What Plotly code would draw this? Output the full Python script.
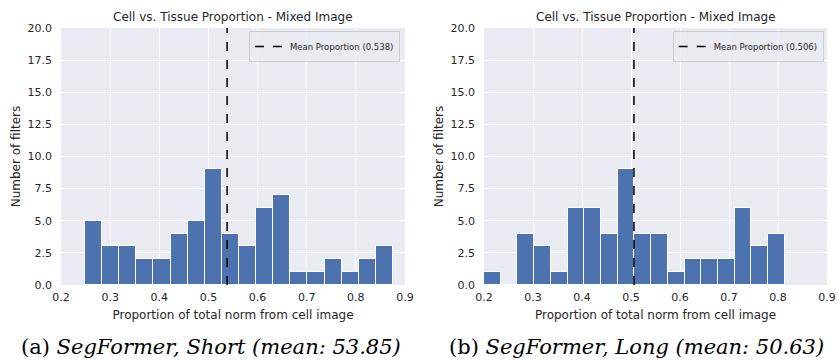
import numpy as np
import plotly.graph_objects as go
from plotly.subplots import make_subplots

# ---- data ----
short_bin_start = 0.249
short_bin_width = 0.0348
short_counts = [5, 3, 3, 2, 2, 4, 5, 9, 4, 3, 6, 7, 1, 1, 2, 1, 2, 3]
short_mean = 0.538

long_bin_start = 0.200
long_bin_width = 0.0341
long_counts = [1, 0, 4, 3, 1, 6, 6, 4, 9, 4, 4, 1, 2, 2, 2, 6, 3, 4]
long_mean = 0.506

panel_titles = ["Cell vs. Tissue Proportion - Mixed Image", "Cell vs. Tissue Proportion - Mixed Image"]
captions = ["(a) <i>SegFormer, Short (mean: 53.85)</i>", "(b) <i>SegFormer, Long (mean: 50.63)</i>"]
x_ticks = [0.2, 0.3, 0.4, 0.5, 0.6, 0.7, 0.8, 0.9]
y_ticks = [0.0, 2.5, 5.0, 7.5, 10.0, 12.5, 15.0, 17.5, 20.0]

BAR = "#4C72B0"
BG = "#EAEAF2"
FONT = "DejaVu Sans"

fig = make_subplots(rows=1, cols=2)

panels = [
    (short_bin_start, short_bin_width, short_counts, short_mean, "legend"),
    (long_bin_start, long_bin_width, long_counts, long_mean, "legend2"),
]
for i, (start, width, counts, mean, leg) in enumerate(panels):
    centers = start + width * (np.arange(len(counts)) + 0.5)
    fig.add_trace(go.Bar(x=centers, y=counts, width=width, marker=dict(color=BAR, line=dict(color="white", width=1)),
                         showlegend=False, hoverinfo="skip"), row=1, col=i + 1)
    fig.add_trace(go.Scatter(x=[mean, mean], y=[0, 20], mode="lines",
                             line=dict(color="black", dash="dash", width=1.5),
                             name=f"Mean Proportion ({mean:.3f})", legend=leg), row=1, col=i + 1)

doms_x = [[61 / 837, 405 / 837], [484 / 837, 827 / 837]]
dom_y = [1 - 285 / 360, 1 - 28 / 360]
for i in range(2):
    ax = dict(domain=doms_x[i], range=[0.2, 0.9], tickvals=x_ticks, tickformat=".1f", automargin=False,
              showgrid=True, gridcolor="white", gridwidth=1, zeroline=False, showline=False,
              ticks="", ticklabelstandoff=4, tickfont=dict(family=FONT, size=11, color="#262626"),
              title=dict(text="Proportion of total norm from cell image", font=dict(family=FONT, size=12, color="#262626"), standoff=7))
    ay = dict(domain=dom_y, range=[0, 20], tickvals=y_ticks, tickformat=".1f", automargin=False,
              showgrid=True, gridcolor="white", gridwidth=1, zeroline=False, showline=False,
              ticks="", ticklabelstandoff=8, tickfont=dict(family=FONT, size=11, color="#262626"),
              title=dict(text="Number of filters", font=dict(family=FONT, size=12, color="#262626"), standoff=4))
    fig.layout[f"xaxis{'' if i == 0 else i + 1}"].update(ax)
    fig.layout[f"yaxis{'' if i == 0 else i + 1}"].update(ay)

legend_style = dict(bgcolor="rgba(234,234,242,0.8)", bordercolor="#CCCCCC", borderwidth=1,
                    font=dict(family=FONT, size=8.5, color="#262626"), xanchor="right", yanchor="top",
                    itemwidth=30, tracegroupgap=0)
fig.update_layout(
    legend=dict(x=doms_x[0][1] - 0.006, y=dom_y[1] - 0.008, **legend_style),
    legend2=dict(x=doms_x[1][1] - 0.004, y=dom_y[1] - 0.008, **legend_style),
)

annotations = []
for i in range(2):
    cx = (doms_x[i][0] + doms_x[i][1]) / 2
    annotations.append(dict(text=panel_titles[i], x=cx, y=1 - 17 / 360, xref="paper", yref="paper",
                            showarrow=False, xanchor="center", yanchor="middle",
                            font=dict(family=FONT, size=12, color="#262626")))
caption_x = [211 / 837, 636 / 837]
for i in range(2):
    annotations.append(dict(text=captions[i], x=caption_x[i], y=1 - 347 / 360, xref="paper", yref="paper",
                            showarrow=False, xanchor="center", yanchor="middle",
                            font=dict(family="DejaVu Serif", size=21, color="black")))
fig.update_layout(annotations=annotations)

fig.update_layout(width=837, height=360, margin=dict(l=0, r=0, t=0, b=0),
                  plot_bgcolor=BG, paper_bgcolor="white", bargap=0)

fig.write_html("out.html")
